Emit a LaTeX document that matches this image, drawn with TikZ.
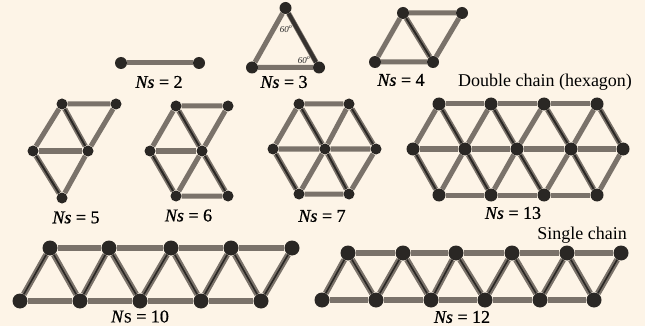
\documentclass[tikz,border=0pt]{standalone}
\usepackage{fontspec}
\newfontfamily\tms{Liberation Serif}
\newfontfamily\tmsb[FakeBold=0.8]{Liberation Serif}
\definecolor{bgc}{HTML}{FDF4E7}
\definecolor{eg}{HTML}{7A726A}
\definecolor{nd}{HTML}{2A2724}
\pgfdeclarelayer{back}
\pgfdeclarelayer{edges}
\pgfsetlayers{back,edges,main}
\tikzset{
  v/.style={circle,fill=nd,inner sep=0pt,minimum size=12pt},
  vs/.style={v,minimum size=11pt},
  vm/.style={v,minimum size=13pt},
  vl/.style={v,minimum size=15pt},
  e/.style={draw=eg,line width=5pt},
  el/.style={draw=eg,line width=6pt},
  ed/.style={draw=eg,line width=1.7pt,double=nd,double distance=1.9pt},
  edl/.style={draw=eg,line width=2.2pt,double=nd,double distance=1.6pt},
  edk/.style={draw=eg,line width=0.7pt,double=nd!85!eg,double distance=3.8pt},
  lab/.style={font=\tms\fontsize{18}{20}\selectfont,text=black,inner sep=0pt},
  nlab/.style={font=\tmsb\fontsize{18}{20}\selectfont,text=black,inner sep=0pt},
  ang/.style={font=\tms\fontsize{9}{10}\selectfont,text=black!85,inner sep=0pt},
}
\begin{document}
\begin{tikzpicture}[x=1pt,y=-1pt]
\begin{pgfonlayer}{back}
\path[use as bounding box,fill=bgc] (0,0) rectangle (645,326);
\end{pgfonlayer}

% ---------- Ns = 2
\node[v] (a1) at (121,63) {};
\node[v] (a2) at (199,63) {};
\node[nlab] (la) at (159,82) {\textit{Ns} = 2};
\begin{pgfonlayer}{edges}
\draw[e] (a1) -- (a2);
\end{pgfonlayer}

% ---------- Ns = 3
\node[v] (b1) at (285.5,8) {};
\node[v] (b2) at (252,67.5) {};
\node[v] (b3) at (319,67.5) {};
\node[nlab] (lb) at (284,82) {\textit{Ns} = 3};
\node[ang] (ang1) at (286,29.5) {\textit{60\textsuperscript{o}}};
\node[ang] (ang2) at (304,60.5) {\textit{60\textsuperscript{o}}};
\begin{pgfonlayer}{edges}
\draw[e] (b1) -- (b2) -- (b3);
\draw[edk] (b1) -- (b3);
\end{pgfonlayer}

% ---------- Ns = 4
\node[v] (c1) at (403,13) {};
\node[v] (c2) at (462,13) {};
\node[v] (c3) at (375,62) {};
\node[v] (c4) at (433,62) {};
\node[nlab] (lc) at (401,80) {\textit{Ns} = 4};
\begin{pgfonlayer}{edges}
\draw[e] (c3) -- (c1) -- (c2) -- (c4) -- (c3);
\draw[ed] (c1) -- (c4);
\end{pgfonlayer}

\node[lab] (dbl) at (545,82) {Double chain (hexagon)};

% ---------- Ns = 5
\node[vs] (d1) at (62,104) {};
\node[vs] (d2) at (116,104) {};
\node[vs] (d3) at (33,151) {};
\node[vs] (d4) at (88,151) {};
\node[vs] (d5) at (62,198) {};
\node[nlab] (ld) at (76,217.5) {\textit{Ns} = 5};
\begin{pgfonlayer}{edges}
\draw[e] (d3) -- (d1) -- (d2) -- (d4) -- (d5);
\draw[e] (d3) -- (d4);
\draw[ed] (d1) -- (d4);
\draw[ed] (d3) -- (d5);
\end{pgfonlayer}

% ---------- Ns = 6
\node[vs] (f1) at (176,106) {};
\node[vs] (f2) at (228,106) {};
\node[vs] (f3) at (150,151) {};
\node[vs] (f4) at (202,151) {};
\node[vs] (f5) at (176,196) {};
\node[vs] (f6) at (228,196) {};
\node[nlab] (lf) at (188.5,215.5) {\textit{Ns} = 6};
\begin{pgfonlayer}{edges}
\draw[e] (f3) -- (f1) -- (f2) -- (f4) -- (f5) -- (f6);
\draw[e] (f3) -- (f4);
\draw[ed] (f1) -- (f4);
\draw[ed] (f3) -- (f5);
\draw[ed] (f4) -- (f6);
\end{pgfonlayer}

% ---------- Ns = 7
\node[vs] (g1) at (299,104) {};
\node[vs] (g2) at (349,104) {};
\node[vs] (g3) at (273,149) {};
\node[vs] (g4) at (325,149) {};
\node[vs] (g5) at (376,149) {};
\node[vs] (g6) at (299,194) {};
\node[vs] (g7) at (349,194) {};
\node[nlab] (lg) at (322,216) {\textit{Ns} = 7};
\begin{pgfonlayer}{edges}
\draw[e] (g3) -- (g1) -- (g2);
\draw[e] (g4) -- (g2);
\draw[e] (g3) -- (g4) -- (g5) -- (g7) -- (g6);
\draw[e] (g4) -- (g6);
\draw[ed] (g1) -- (g4);
\draw[ed] (g2) -- (g5);
\draw[ed] (g3) -- (g6);
\draw[ed] (g4) -- (g7);
\end{pgfonlayer}

% ---------- Ns = 13
\foreach \i/\x in {1/439,2/491,3/544,4/597} {
  \node[vm] (t\i) at (\x,104) {};
  \node[vm] (u\i) at (\x,195) {};
}
\foreach \i/\x in {1/413,2/465,3/517,4/571,5/623} {
  \node[vm] (m\i) at (\x,149) {};
}
\node[nlab] (lm) at (513,213) {\textit{Ns} = 13};
\begin{pgfonlayer}{edges}
\draw[e] (t1) -- (t2) -- (t3) -- (t4);
\draw[e] (u1) -- (u2) -- (u3) -- (u4);
\draw[e] (m1) -- (m2) -- (m3) -- (m4) -- (m5);
\foreach \i [evaluate=\i as \j using int(\i+1)] in {1,2,3,4} {
  \draw[e] (m\i) -- (t\i);
  \draw[e] (u\i) -- (m\j);
  \draw[ed] (t\i) -- (m\j);
  \draw[ed] (m\i) -- (u\i);
}
\end{pgfonlayer}

% ---------- Ns = 10
\foreach \i/\xt/\xb in {1/50/20,2/109/80,3/171/140,4/231/201,5/292/261} {
  \node[vl] (p\i) at (\xt,248) {};
  \node[vl] (q\i) at (\xb,301) {};
}
\node[nlab] (lp) at (140,316.5) {\textit{N}{\fontsize{14}{16}\selectfont S} = 10};
\begin{pgfonlayer}{edges}
\draw[el] (p1) -- (p2) -- (p3) -- (p4) -- (p5);
\draw[el] (q1) -- (q2) -- (q3) -- (q4) -- (q5);
\foreach \i in {1,...,5} { \draw[edl] (q\i) -- (p\i); }
\foreach \i [evaluate=\i as \j using int(\i+1)] in {1,2,3,4} {
  \draw[edl] (p\i) -- (q\j);
}
\end{pgfonlayer}

% ---------- Ns = 12
\foreach \i/\xt/\xb in {1/348/322,2/403/376,3/456/431,4/512/485,5/567/540,6/621/594} {
  \node[vl] (r\i) at (\xt,253) {};
  \node[vl] (s\i) at (\xb,300) {};
}
\node[nlab] (lr) at (462,317) {\textit{Ns} = 12};
\node[lab] (sgl) at (582,235) {Single chain};
\begin{pgfonlayer}{edges}
\draw[el] (r1) -- (r2) -- (r3) -- (r4) -- (r5) -- (r6);
\draw[el] (s1) -- (s2) -- (s3) -- (s4) -- (s5) -- (s6);
\foreach \i in {1,...,6} { \draw[edl] (s\i) -- (r\i); }
\foreach \i [evaluate=\i as \j using int(\i+1)] in {1,...,5} {
  \draw[edl] (r\i) -- (s\j);
}
\end{pgfonlayer}
\end{tikzpicture}
\end{document}
